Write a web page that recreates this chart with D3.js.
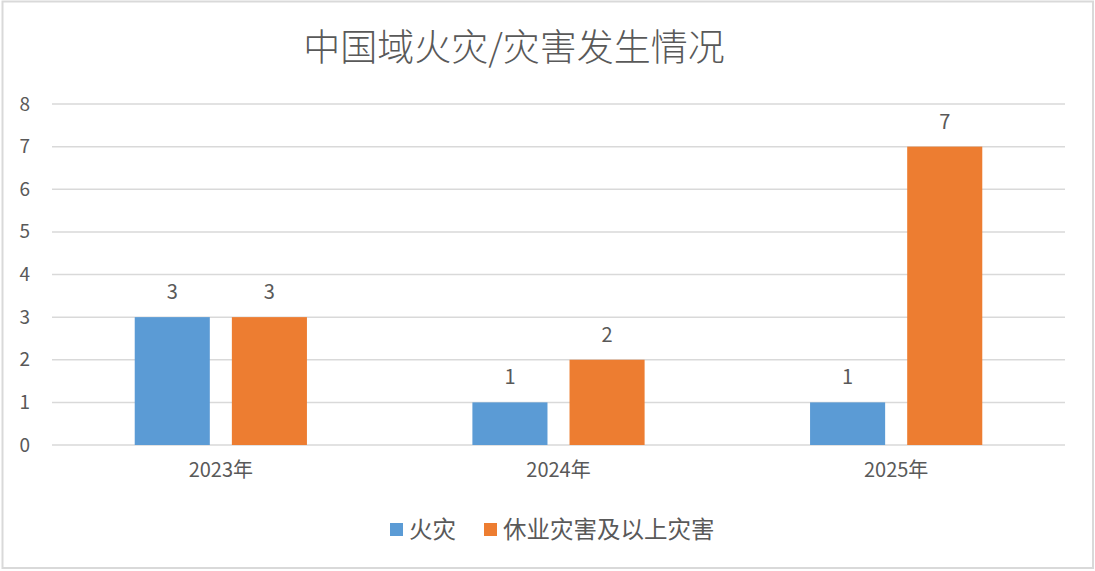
<!DOCTYPE html>
<html>
<head>
<meta charset="utf-8">
<script src="https://cdn.jsdelivr.net/npm/d3@7"></script>
<style>
	body { margin: 0; background: #fff; }
	text { font-family: "Noto Sans CJK SC", "Noto Sans", sans-serif; fill: #595959; }
</style>
</head>
<body>
<div class="chart"></div>
<script>
const years = ['2023年', '2024年', '2025年'];
const seriesNames = ['火灾', '休业灾害及以上灾害'];
const fireCounts = [3, 1, 1];
const disasterCounts = [3, 2, 7];
const yTicks = [0, 1, 2, 3, 4, 5, 6, 7, 8];
const colors = ['#5B9BD5', '#ED7D31'];

const W = 1095, H = 571;
const margin = ({top: 104, right: 30, bottom: 126, left: 52});
const width = W - margin.left - margin.right;
const height = H - margin.top - margin.bottom;

const svg = d3.select('.chart').append('svg')
	.attr('width', W)
	.attr('height', H);

// outer border
svg.append('rect')
	.attr('x', 2.5).attr('y', 1.5)
	.attr('width', W - 4.5).attr('height', H - 4.5)
	.attr('fill', '#fff')
	.attr('stroke', '#d9d9d9')
	.attr('stroke-width', 2);

svg.append('text')
	.attr('x', 514)
	.attr('y', 61)
	.attr('text-anchor', 'middle')
	.attr('font-size', '37px')
	.attr('font-weight', 300)
	.text('中国域火灾/灾害发生情况');

const g = svg.append('g')
	.attr('transform', 'translate(' + margin.left + ',' + margin.top + ')');

const xScale = d3.scaleBand()
	.domain(years)
	.range([0, width])
	.paddingInner(0.49)
	.paddingOuter(0.245);

const xInner = d3.scaleBand()
	.domain(seriesNames)
	.range([0, xScale.bandwidth()])
	.paddingInner(0.227);

const yScale = d3.scaleLinear()
	.domain([0, 8])
	.range([height, 0]);

// gridlines
g.append('g')
	.selectAll('line')
	.data(yTicks)
	.enter()
	.append('line')
	.attr('x1', 0)
	.attr('x2', width)
	.attr('y1', d => yScale(d))
	.attr('y2', d => yScale(d))
	.attr('stroke', '#d9d9d9')
	.attr('stroke-width', 1.5);

const yAxis = d3.axisLeft(yScale)
	.tickValues(yTicks)
	.tickSize(0)
	.tickPadding(22);

g.append('g')
	.attr('class', 'axis y-axis')
	.call(yAxis)
	.call(s => s.select('.domain').remove())
	.selectAll('text')
	.attr('font-size', '19px')
	.style('fill', '#595959');

const xAxis = d3.axisBottom(xScale)
	.tickSize(0)
	.tickPadding(18);

g.append('g')
	.attr('class', 'axis x-axis')
	.attr('transform', `translate(0, ${height})`)
	.call(xAxis)
	.call(s => s.select('.domain').remove())
	.selectAll('text')
	.attr('font-size', '20px')
	.style('fill', '#595959');

const rows = years.map((y, i) => ({year: y, values: [fireCounts[i], disasterCounts[i]]}));

const groups = g.selectAll('.group')
	.data(rows)
	.enter()
	.append('g')
	.attr('class', 'group')
	.attr('transform', d => `translate(${xScale(d.year)},0)`);

groups.selectAll('.bar')
	.data(d => d.values.map((v, j) => ({name: seriesNames[j], value: v, color: colors[j]})))
	.enter()
	.append('rect')
	.attr('class', 'bar')
	.attr('x', d => xInner(d.name))
	.attr('y', d => yScale(d.value))
	.attr('width', xInner.bandwidth())
	.attr('height', d => height - yScale(d.value))
	.attr('fill', d => d.color);

groups.selectAll('.label')
	.data(d => d.values.map((v, j) => ({name: seriesNames[j], value: v})))
	.enter()
	.append('text')
	.attr('class', 'label')
	.attr('x', d => xInner(d.name) + xInner.bandwidth() / 2)
	.attr('y', d => yScale(d.value) - 18)
	.attr('text-anchor', 'middle')
	.attr('font-size', '20px')
	.text(d => d.value);

// legend
const legendX = [390, 484];
const legend = svg.append('g')
	.selectAll('g')
	.data(seriesNames)
	.enter()
	.append('g')
	.attr('transform', (d, i) => `translate(${legendX[i]}, 530)`);

legend.append('rect')
	.attr('x', 0).attr('y', -7)
	.attr('width', 13).attr('height', 13)
	.attr('fill', (d, i) => colors[i]);

legend.append('text')
	.attr('x', 19)
	.attr('y', 0)
	.attr('dy', '0.35em')
	.attr('font-size', '23.5px')
	.text(d => d);
</script>
</body>
</html>
